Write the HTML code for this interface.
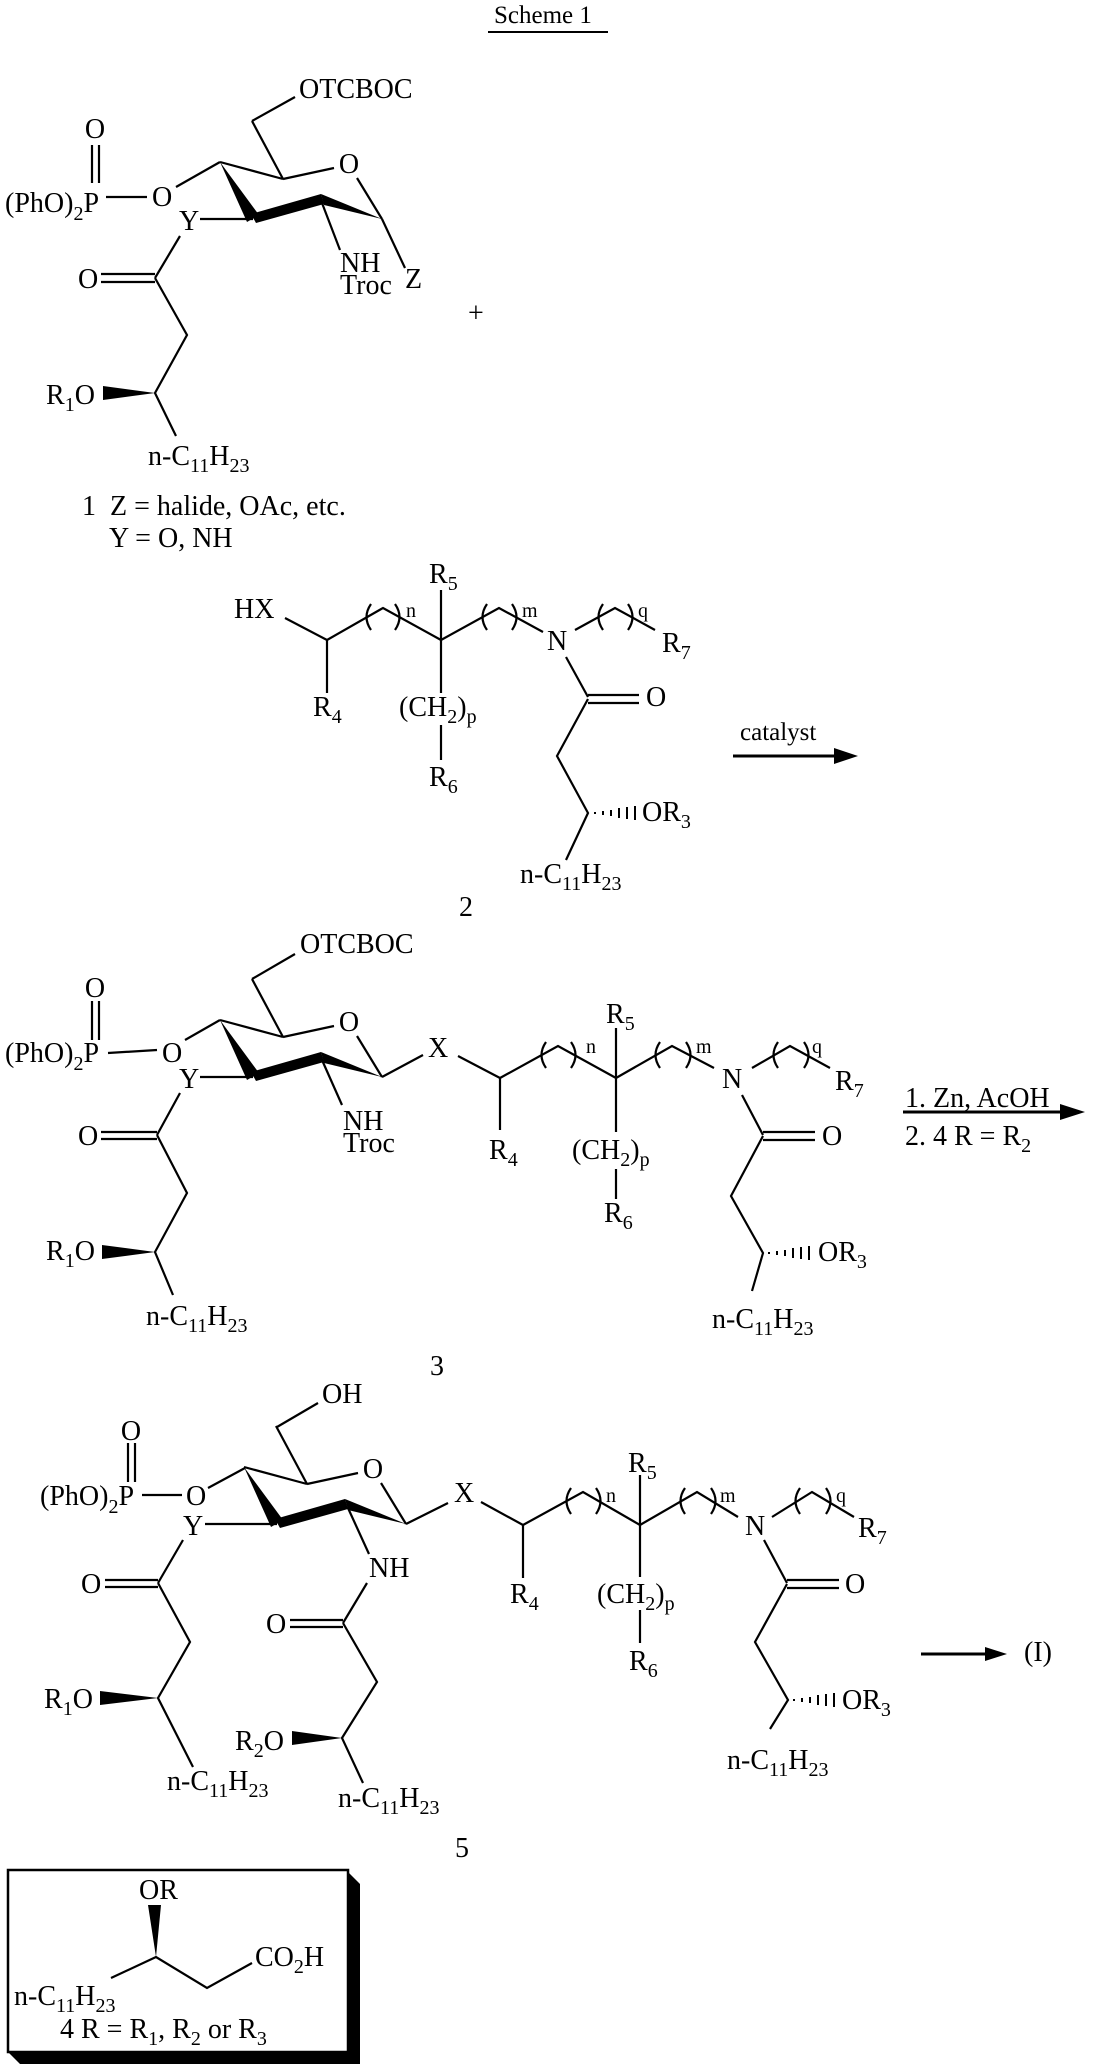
<!DOCTYPE html>
<html><head><meta charset="utf-8"><style>
html,body{margin:0;padding:0;background:#fff;}
svg{display:block;}
text{font-family:"Liberation Serif","DejaVu Serif",serif;font-size:28px;fill:#000;}
.s{font-size:20px;}
</style></head><body>
<svg width="1097" height="2070" viewBox="0 0 1097 2070" xmlns="http://www.w3.org/2000/svg">
<defs>
<g id="ring">
  <g stroke="#000" stroke-width="2.2" fill="none">
    <line x1="252" y1="979" x2="283" y2="1037"/>
    <line x1="220" y1="1020" x2="283" y2="1037"/>
    <line x1="283" y1="1037" x2="334" y2="1026"/>
    <line x1="357" y1="1036" x2="382" y2="1077"/>
  </g>
  <text x="349" y="1031" text-anchor="middle">O</text>
  <polygon points="220,1020 247,1080 259,1073" fill="#000"/>
  <polygon points="251,1072 321,1052 324,1062 256,1081" fill="#000"/>
  <polygon points="321,1052 324,1063 382,1077" fill="#000"/>
</g>
</defs>

<!-- Title -->
<text x="494" y="23" style="font-size:25px">Scheme 1</text>
<line x1="488" y1="32" x2="608" y2="32" stroke="#000" stroke-width="2"/>

<!-- ========== Compound 1 ========== -->
<use href="#ring" transform="translate(0,-858)"/>
<g stroke="#000" stroke-width="2.2" fill="none">
  <line x1="252" y1="121" x2="295" y2="97"/>
  <line x1="92" y1="145" x2="92" y2="183"/>
  <line x1="99" y1="145" x2="99" y2="183"/>
  <line x1="106" y1="197" x2="147" y2="197"/>
  <line x1="176" y1="187" x2="220" y2="162"/>
  <line x1="253" y1="219" x2="200" y2="219"/>
  <line x1="322" y1="203" x2="340" y2="250"/>
  <line x1="382" y1="219" x2="405" y2="268"/>
  <line x1="180" y1="236" x2="155" y2="278"/>
  <line x1="101" y1="274" x2="155" y2="274"/>
  <line x1="101" y1="282" x2="155" y2="282"/>
  <polyline points="155,278 187,335 155,393 176,436"/>
</g>
<polygon points="155,393 103,386 103,400" fill="#000"/>
<text x="299" y="98">OTCBOC</text>
<text x="95" y="138" text-anchor="middle">O</text>
<text x="5" y="212">(PhO)<tspan class="s" dy="8">2</tspan><tspan dy="-8">P</tspan></text>
<text x="152" y="206">O</text>
<text x="179" y="230">Y</text>
<text x="340" y="272">NH</text>
<text x="340" y="294">Troc</text>
<text x="405" y="288">Z</text>
<text x="78" y="288">O</text>
<text x="46" y="404">R<tspan class="s" dy="7">1</tspan><tspan dy="-7">O</tspan></text>
<text x="148" y="465">n-C<tspan class="s" dy="7">11</tspan><tspan dy="-7">H</tspan><tspan class="s" dy="7">23</tspan></text>
<text x="82" y="515">1&#160;&#160;Z = halide, OAc, etc.</text>
<text x="109" y="547">Y = O, NH</text>
<text x="468" y="322">+</text>

<!-- ========== Compound 2 ========== -->
<g stroke="#000" stroke-width="2.2" fill="none">
  <line x1="285" y1="618" x2="327" y2="640"/>
  <line x1="327" y1="640" x2="327" y2="693"/>
  <polyline points="327,640 383,608 441,640"/>
  <line x1="441" y1="590" x2="441" y2="693"/>
  <line x1="441" y1="725" x2="441" y2="760"/>
  <polyline points="441,640 499,608 543,632"/>
  <polyline points="575,630 615,608 655,630"/>
  <line x1="566" y1="657" x2="588" y2="697"/>
  <line x1="588" y1="695" x2="639" y2="695"/>
  <line x1="588" y1="703" x2="639" y2="703"/>
  <polyline points="588,699 557,756 588,813 566,860"/>
  <path d="M371,604 Q362,617 371,630 M395,604 Q404,617 395,630"/>
  <path d="M487,604 Q478,617 487,630 M512,604 Q521,617 512,630"/>
  <path d="M603,604 Q594,617 603,630 M628,604 Q637,617 628,630"/>
</g>
<g stroke="#000" stroke-width="2">
  <line x1="595" y1="812" x2="595" y2="814"/>
  <line x1="603" y1="811" x2="603" y2="815"/>
  <line x1="611" y1="810" x2="611" y2="816"/>
  <line x1="619" y1="808" x2="619" y2="818"/>
  <line x1="627" y1="807" x2="627" y2="819"/>
  <line x1="635" y1="806" x2="635" y2="820"/>
</g>
<text x="234" y="618">HX</text>
<text x="313" y="716">R<tspan class="s" dy="7">4</tspan></text>
<text x="406" y="617" class="s">n</text>
<text x="429" y="583">R<tspan class="s" dy="7">5</tspan></text>
<text x="399" y="716">(CH<tspan class="s" dy="7">2</tspan><tspan dy="-7">)</tspan><tspan class="s" dy="7">p</tspan></text>
<text x="429" y="786">R<tspan class="s" dy="7">6</tspan></text>
<text x="522" y="617" class="s">m</text>
<text x="547" y="650">N</text>
<text x="638" y="617" class="s">q</text>
<text x="662" y="652">R<tspan class="s" dy="7">7</tspan></text>
<text x="646" y="706">O</text>
<text x="642" y="821">OR<tspan class="s" dy="7">3</tspan></text>
<text x="520" y="883">n-C<tspan class="s" dy="7">11</tspan><tspan dy="-7">H</tspan><tspan class="s" dy="7">23</tspan></text>
<text x="459" y="916">2</text>
<text x="740" y="740" style="font-size:25px">catalyst</text>
<line x1="733" y1="756" x2="840" y2="756" stroke="#000" stroke-width="3"/>
<polygon points="858,756 834,748 834,764" fill="#000"/>

<!-- ========== Compound 3 ========== -->
<use href="#ring"/>
<g stroke="#000" stroke-width="2.2" fill="none">
  <line x1="252" y1="979" x2="295" y2="954"/>
  <line x1="92" y1="1001" x2="92" y2="1040"/>
  <line x1="99" y1="1001" x2="99" y2="1040"/>
  <line x1="108" y1="1053" x2="157" y2="1050"/>
  <line x1="185" y1="1040" x2="220" y2="1020"/>
  <line x1="253" y1="1077" x2="200" y2="1077"/>
  <line x1="322" y1="1060" x2="342" y2="1105"/>
  <line x1="382" y1="1077" x2="423" y2="1055"/>
  <line x1="180" y1="1093" x2="157" y2="1135"/>
  <line x1="101" y1="1132" x2="157" y2="1132"/>
  <line x1="101" y1="1139" x2="157" y2="1139"/>
  <polyline points="157,1135 187,1193 155,1252 173,1295"/>
  <line x1="458" y1="1056" x2="500" y2="1078"/>
  <line x1="500" y1="1078" x2="500" y2="1130"/>
  <polyline points="500,1078 558,1046 616,1078"/>
  <line x1="616" y1="1028" x2="616" y2="1132"/>
  <line x1="616" y1="1169" x2="616" y2="1199"/>
  <polyline points="616,1078 672,1046 714,1068"/>
  <polyline points="752,1068 790,1046 830,1068"/>
  <line x1="742" y1="1095" x2="763" y2="1135"/>
  <line x1="763" y1="1132" x2="815" y2="1132"/>
  <line x1="763" y1="1140" x2="815" y2="1140"/>
  <polyline points="763,1136 731,1196 763,1253 752,1291"/>
  <path d="M546,1042 Q537,1055 546,1068 M571,1042 Q580,1055 571,1068"/>
  <path d="M660,1042 Q651,1055 660,1068 M686,1042 Q695,1055 686,1068"/>
  <path d="M778,1042 Q769,1055 778,1068 M804,1042 Q813,1055 804,1068"/>
</g>
<polygon points="155,1252 102,1245 102,1259" fill="#000"/>
<g stroke="#000" stroke-width="2">
  <line x1="769" y1="1252" x2="769" y2="1254"/>
  <line x1="777" y1="1251" x2="777" y2="1255"/>
  <line x1="785" y1="1250" x2="785" y2="1256"/>
  <line x1="793" y1="1248" x2="793" y2="1258"/>
  <line x1="801" y1="1247" x2="801" y2="1259"/>
  <line x1="809" y1="1246" x2="809" y2="1260"/>
</g>
<text x="300" y="953">OTCBOC</text>
<text x="95" y="997" text-anchor="middle">O</text>
<text x="5" y="1062">(PhO)<tspan class="s" dy="8">2</tspan><tspan dy="-8">P</tspan></text>
<text x="162" y="1062">O</text>
<text x="179" y="1088">Y</text>
<text x="343" y="1130">NH</text>
<text x="343" y="1152">Troc</text>
<text x="428" y="1057">X</text>
<text x="78" y="1145">O</text>
<text x="46" y="1260">R<tspan class="s" dy="7">1</tspan><tspan dy="-7">O</tspan></text>
<text x="146" y="1325">n-C<tspan class="s" dy="7">11</tspan><tspan dy="-7">H</tspan><tspan class="s" dy="7">23</tspan></text>
<text x="489" y="1159">R<tspan class="s" dy="7">4</tspan></text>
<text x="586" y="1053" class="s">n</text>
<text x="606" y="1023">R<tspan class="s" dy="7">5</tspan></text>
<text x="572" y="1159">(CH<tspan class="s" dy="7">2</tspan><tspan dy="-7">)</tspan><tspan class="s" dy="7">p</tspan></text>
<text x="604" y="1222">R<tspan class="s" dy="7">6</tspan></text>
<text x="696" y="1053" class="s">m</text>
<text x="722" y="1088">N</text>
<text x="812" y="1053" class="s">q</text>
<text x="835" y="1090">R<tspan class="s" dy="7">7</tspan></text>
<text x="822" y="1145">O</text>
<text x="818" y="1261">OR<tspan class="s" dy="7">3</tspan></text>
<text x="712" y="1328">n-C<tspan class="s" dy="7">11</tspan><tspan dy="-7">H</tspan><tspan class="s" dy="7">23</tspan></text>
<text x="430" y="1375">3</text>
<text x="905" y="1107">1. Zn, AcOH</text>
<line x1="903" y1="1112" x2="1066" y2="1112" stroke="#000" stroke-width="3"/>
<polygon points="1085,1112 1060,1104 1060,1120" fill="#000"/>
<text x="905" y="1145">2. 4 R = R<tspan class="s" dy="7">2</tspan></text>

<!-- ========== Compound 5 ========== -->
<use href="#ring" transform="translate(24,447)"/>
<g stroke="#000" stroke-width="2.2" fill="none">
  <line x1="277" y1="1427" x2="318" y2="1403"/>
  <line x1="128" y1="1443" x2="128" y2="1482"/>
  <line x1="135" y1="1443" x2="135" y2="1482"/>
  <line x1="142" y1="1495" x2="182" y2="1495"/>
  <line x1="208" y1="1488" x2="245" y2="1468"/>
  <line x1="277" y1="1524" x2="205" y2="1524"/>
  <line x1="348" y1="1508" x2="369" y2="1554"/>
  <line x1="406" y1="1524" x2="448" y2="1503"/>
  <line x1="183" y1="1540" x2="158" y2="1583"/>
  <line x1="105" y1="1580" x2="158" y2="1580"/>
  <line x1="105" y1="1587" x2="158" y2="1587"/>
  <polyline points="158,1583 190,1642 158,1698 193,1767"/>
  <line x1="367" y1="1583" x2="343" y2="1623"/>
  <line x1="290" y1="1620" x2="343" y2="1620"/>
  <line x1="290" y1="1627" x2="343" y2="1627"/>
  <polyline points="343,1623 377,1682 342,1738 363,1783"/>
  <line x1="481" y1="1502" x2="523" y2="1525"/>
  <line x1="523" y1="1525" x2="523" y2="1578"/>
  <polyline points="523,1525 583,1492 640,1525"/>
  <line x1="640" y1="1475" x2="640" y2="1577"/>
  <line x1="640" y1="1610" x2="640" y2="1643"/>
  <polyline points="640,1525 697,1492 738,1517"/>
  <polyline points="772,1517 812,1492 854,1517"/>
  <line x1="764" y1="1540" x2="787" y2="1583"/>
  <line x1="787" y1="1580" x2="839" y2="1580"/>
  <line x1="787" y1="1588" x2="839" y2="1588"/>
  <polyline points="787,1584 755,1642 788,1700 770,1729"/>
  <path d="M571,1488 Q562,1501 571,1514 M596,1488 Q605,1501 596,1514"/>
  <path d="M685,1488 Q676,1501 685,1514 M711,1488 Q720,1501 711,1514"/>
  <path d="M800,1488 Q791,1501 800,1514 M826,1488 Q835,1501 826,1514"/>
</g>
<polygon points="158,1698 100,1691 100,1705" fill="#000"/>
<polygon points="342,1738 292,1731 292,1745" fill="#000"/>
<g stroke="#000" stroke-width="2">
  <line x1="794" y1="1699" x2="794" y2="1701"/>
  <line x1="802" y1="1698" x2="802" y2="1702"/>
  <line x1="810" y1="1697" x2="810" y2="1703"/>
  <line x1="818" y1="1695" x2="818" y2="1705"/>
  <line x1="826" y1="1694" x2="826" y2="1706"/>
  <line x1="834" y1="1693" x2="834" y2="1707"/>
</g>
<text x="322" y="1403">OH</text>
<text x="131" y="1440" text-anchor="middle">O</text>
<text x="40" y="1505">(PhO)<tspan class="s" dy="8">2</tspan><tspan dy="-8">P</tspan></text>
<text x="186" y="1505">O</text>
<text x="183" y="1535">Y</text>
<text x="369" y="1577">NH</text>
<text x="454" y="1502">X</text>
<text x="81" y="1593">O</text>
<text x="266" y="1633">O</text>
<text x="44" y="1708">R<tspan class="s" dy="7">1</tspan><tspan dy="-7">O</tspan></text>
<text x="235" y="1750">R<tspan class="s" dy="7">2</tspan><tspan dy="-7">O</tspan></text>
<text x="167" y="1790">n-C<tspan class="s" dy="7">11</tspan><tspan dy="-7">H</tspan><tspan class="s" dy="7">23</tspan></text>
<text x="338" y="1807">n-C<tspan class="s" dy="7">11</tspan><tspan dy="-7">H</tspan><tspan class="s" dy="7">23</tspan></text>
<text x="510" y="1603">R<tspan class="s" dy="7">4</tspan></text>
<text x="606" y="1502" class="s">n</text>
<text x="628" y="1472">R<tspan class="s" dy="7">5</tspan></text>
<text x="597" y="1603">(CH<tspan class="s" dy="7">2</tspan><tspan dy="-7">)</tspan><tspan class="s" dy="7">p</tspan></text>
<text x="629" y="1670">R<tspan class="s" dy="7">6</tspan></text>
<text x="720" y="1502" class="s">m</text>
<text x="745" y="1535">N</text>
<text x="836" y="1502" class="s">q</text>
<text x="858" y="1537">R<tspan class="s" dy="7">7</tspan></text>
<text x="845" y="1593">O</text>
<text x="842" y="1709">OR<tspan class="s" dy="7">3</tspan></text>
<text x="727" y="1769">n-C<tspan class="s" dy="7">11</tspan><tspan dy="-7">H</tspan><tspan class="s" dy="7">23</tspan></text>
<text x="455" y="1857">5</text>
<line x1="921" y1="1654" x2="990" y2="1654" stroke="#000" stroke-width="3"/>
<polygon points="1007,1654 985,1647 985,1661" fill="#000"/>
<text x="1024" y="1661">(I)</text>

<!-- ========== Box with reagent 4 ========== -->
<polygon points="348,1872 360,1884 360,2064 20,2064 8,2052 348,2052" fill="#000"/>
<rect x="8" y="1870" width="340" height="182" fill="#fff" stroke="#000" stroke-width="2.5"/>
<polygon points="156,1957 148,1905 161,1905" fill="#000"/>
<g stroke="#000" stroke-width="2.2" fill="none">
  <polyline points="111,1978 156,1957 207,1988 252,1963"/>
</g>
<text x="139" y="1899">OR</text>
<text x="255" y="1966">CO<tspan class="s" dy="7">2</tspan><tspan dy="-7">H</tspan></text>
<text x="14" y="2005">n-C<tspan class="s" dy="7">11</tspan><tspan dy="-7">H</tspan><tspan class="s" dy="7">23</tspan></text>
<text x="60" y="2038">4 R = R<tspan class="s" dy="7">1</tspan><tspan dy="-7">, R</tspan><tspan class="s" dy="7">2</tspan><tspan dy="-7"> or R</tspan><tspan class="s" dy="7">3</tspan></text>
</svg>
</body></html>
